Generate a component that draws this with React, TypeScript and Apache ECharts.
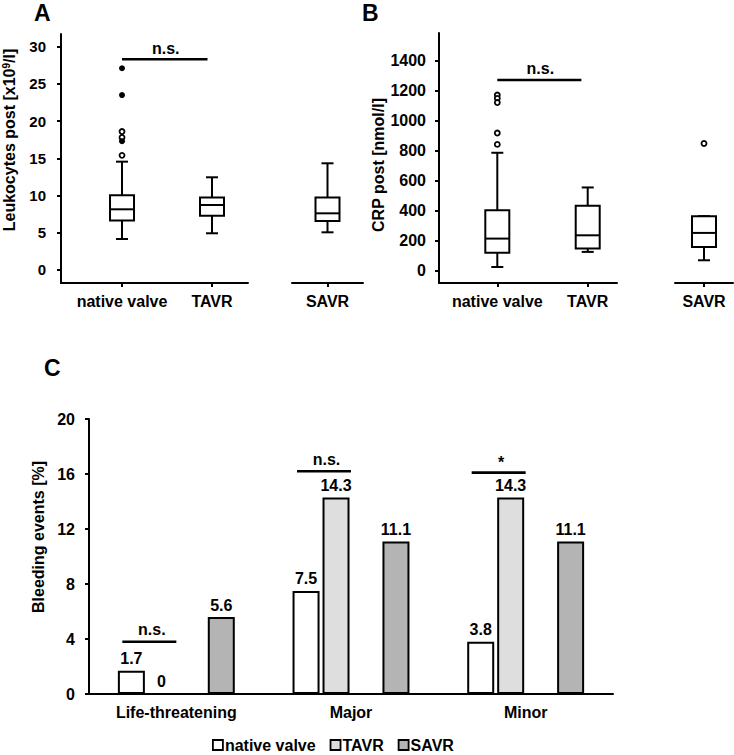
import React, { useEffect, useRef } from 'react';
import * as echarts from 'echarts';

const FONT = "'Liberation Sans', Arial, Helvetica, sans-serif";

// Panel A – Leukocytes post
const groupsA = ['native valve', 'TAVR'];
const groupsA2 = ['SAVR'];
const leukoTicks = [0, 5, 10, 15, 20, 25, 30];
// [group index, low whisker, Q1, median, Q3, high whisker]
const leukoBoxes = [
  [0, 4.16, 6.63, 8.15, 10.03, 14.55],
  [1, 4.93, 7.3, 8.73, 9.72, 12.45],
];
const leukoBoxesSavr = [[0, 5.06, 6.58, 7.61, 9.72, 14.33]];
const leukoOutliersOpen = [[0, 18.6], [0, 17.8], [0, 15.4]];
const leukoOutliersFilled = [[0, 27.1], [0, 23.5], [0, 17.3]];
const leukoSig = [[0, 0.95, 28.3]];

// Panel B – CRP post
const groupsB = ['native valve', 'TAVR'];
const groupsB2 = ['SAVR'];
const crpTicks = [0, 200, 400, 600, 800, 1000, 1200, 1400];
const crpBoxes = [
  [0, 22, 118, 212, 402, 786],
  [1, 123, 145, 234, 431, 554],
];
const crpBoxesSavr = [[0, 67, 156, 250, 362, 362]];
const crpOutliers = [[0, 1172], [0, 1150], [0, 1122], [0, 918], [0, 842]];
const crpOutliersSavr = [[0, 848]];
const crpSig = [[0, 0.93, 1273]];

// Panel C – Bleeding events
const bleedCategories = ['Life-threatening', 'Major', 'Minor'];
const nativeValve = [1.7, 7.5, 3.8];
const tavr = [0, 14.3, 14.3];
const savr = [5.6, 11.1, 11.1];
const bleedTicks = [0, 4, 8, 12, 16, 20];
const sigC = [[0, 3.8], [1, 16.2], [2, 16.1]];
const sigCLabels = ['n.s.', 'n.s.', '*'];

const txt = { fontFamily: FONT, fontWeight: 'bold' as const, fontSize: 16, color: '#000' };

function boxRender(params: any, api: any) {
  const x = api.value(0);
  const lo = api.coord([x, api.value(1)]);
  const q1 = api.coord([x, api.value(2)]);
  const med = api.coord([x, api.value(3)]);
  const q3 = api.coord([x, api.value(4)]);
  const hi = api.coord([x, api.value(5)]);
  const cx = lo[0];
  const bw = 24;
  const cw = 12;
  const st = { stroke: '#000', lineWidth: 2, fill: 'none' };
  return {
    type: 'group',
    children: [
      { type: 'line', shape: { x1: cx, y1: hi[1], x2: cx, y2: q3[1] }, style: st },
      { type: 'line', shape: { x1: cx, y1: q1[1], x2: cx, y2: lo[1] }, style: st },
      { type: 'line', shape: { x1: cx - cw / 2, y1: hi[1], x2: cx + cw / 2, y2: hi[1] }, style: st },
      { type: 'line', shape: { x1: cx - cw / 2, y1: lo[1], x2: cx + cw / 2, y2: lo[1] }, style: st },
      {
        type: 'rect',
        shape: { x: cx - bw / 2, y: q3[1], width: bw, height: q1[1] - q3[1] },
        style: { stroke: '#000', lineWidth: 2, fill: '#fff' },
      },
      { type: 'line', shape: { x1: cx - bw / 2, y1: med[1], x2: cx + bw / 2, y2: med[1] }, style: st },
    ],
  };
}

function sigRender(params: any, api: any) {
  const p0 = api.coord([api.value(0), api.value(2)]);
  const p1 = api.coord([api.value(1), api.value(2)]);
  return {
    type: 'group',
    children: [
      { type: 'line', shape: { x1: p0[0], y1: p0[1], x2: p1[0], y2: p1[1] }, style: { stroke: '#000', lineWidth: 2.6 } },
      {
        type: 'text',
        x: (p0[0] + p1[0]) / 2 + 1,
        y: p0[1] - 11,
        style: { text: 'n.s.', fill: '#000', fontSize: 16, fontWeight: 'bold', fontFamily: FONT, align: 'center', verticalAlign: 'middle' },
      },
    ],
  };
}

function sigCRender(params: any, api: any) {
  const c = api.coord([api.value(0), api.value(1)]);
  const label = sigCLabels[params.dataIndex];
  return {
    type: 'group',
    children: [
      { type: 'line', shape: { x1: c[0] - 54, y1: c[1], x2: c[0], y2: c[1] }, style: { stroke: '#000', lineWidth: 2.6 } },
      {
        type: 'text',
        x: c[0] - 24.5,
        y: c[1] - (label === '*' ? 10 : 12),
        style: { text: label, fill: '#000', fontSize: 16, fontWeight: 'bold', fontFamily: FONT, align: 'center', verticalAlign: 'middle' },
      },
    ],
  };
}

function valueXAxis(gridIndex: number, min: number, max: number, names: string[]) {
  const vals = names.map((_, i) => i);
  return {
    type: 'value',
    gridIndex,
    min,
    max,
    axisLine: { show: true, onZero: false, lineStyle: { color: '#000', width: 2 } },
    axisTick: { show: true, length: 4, lineStyle: { color: '#000', width: 2 }, customValues: vals },
    axisLabel: { ...txt, margin: 10, customValues: vals, formatter: (v: number) => names[Math.round(v)] ?? '' },
    splitLine: { show: false },
  };
}

function valueYAxis(gridIndex: number, min: number, max: number, ticks: number[], show: boolean, margin: number, fontSize: number) {
  return {
    type: 'value',
    gridIndex,
    min,
    max,
    show,
    axisLine: { show: true, onZero: false, lineStyle: { color: '#000', width: 2 } },
    axisTick: { show: true, length: 4, lineStyle: { color: '#000', width: 2 }, customValues: ticks },
    axisLabel: { ...txt, fontSize, margin, customValues: ticks, formatter: (v: number) => String(v) },
    splitLine: { show: false },
  };
}

export default function App() {
  const ref = useRef<HTMLDivElement>(null);
  useEffect(() => {
    if (!ref.current) return;
    const chart = echarts.init(ref.current, undefined, { renderer: 'svg' });
    const yA: any = valueYAxis(0, -1.75, 31.7, leukoTicks, true, 15, 15);
    yA.name = 'Leukocytes post [x10{sup|9}/l]';
    yA.nameLocation = 'middle';
    yA.nameGap = 44;
    yA.nameTextStyle = { ...txt, padding: [0, 0, 0, 37], rich: { sup: { fontFamily: FONT, fontWeight: 'bold', fontSize: 10, color: '#000', verticalAlign: 'top' } } };
    const yB: any = valueYAxis(2, -85, 1587, crpTicks, true, 13, 16);
    yB.name = 'CRP post [nmol/l]';
    yB.nameLocation = 'middle';
    yB.nameGap = 46;
    yB.nameTextStyle = { ...txt, padding: [0, 14, 0, 0] };

    const titleStyle = { fontFamily: FONT, fontWeight: 'bold', fontSize: 23, lineHeight: 26, color: '#000' };
    const option: any = {
      animation: false,
      textStyle: { fontFamily: FONT },
      title: [
        { text: 'A', left: 34, top: 0, padding: 0, textStyle: titleStyle },
        { text: 'B', left: 362, top: 0, padding: 0, textStyle: titleStyle },
        { text: 'C', left: 44, top: 355, padding: 0, textStyle: titleStyle },
      ],
      grid: [
        { left: 61, top: 34, width: 187, height: 249 },
        { left: 292, top: 34, width: 71, height: 249 },
        { left: 439, top: 33, width: 178, height: 250 },
        { left: 675, top: 33, width: 58, height: 250 },
        { left: 89, top: 419, width: 524, height: 275 },
      ],
      xAxis: [
        valueXAxis(0, -0.678, 1.4, groupsA),
        valueXAxis(1, -0.5, 0.5, groupsA2),
        valueXAxis(2, -0.645, 1.324, groupsB),
        valueXAxis(3, -0.5, 0.5, groupsB2),
        {
          type: 'category',
          gridIndex: 4,
          data: bleedCategories,
          axisLine: { lineStyle: { color: '#000', width: 2 } },
          axisTick: { show: false },
          axisLabel: { ...txt, margin: 10 },
        },
      ],
      yAxis: [
        yA,
        valueYAxis(1, -1.75, 31.7, leukoTicks, false, 15, 15),
        yB,
        valueYAxis(3, -85, 1587, crpTicks, false, 13, 16),
        {
          type: 'value',
          gridIndex: 4,
          min: 0,
          max: 20,
          interval: 4,
          name: 'Bleeding events [%]',
          nameLocation: 'middle',
          nameGap: 37,
          nameTextStyle: { ...txt, padding: [0, 0, 0, 39] },
          axisLine: { show: true, lineStyle: { color: '#000', width: 2 } },
          axisTick: { show: true, length: 4, lineStyle: { color: '#000', width: 2 } },
          axisLabel: { ...txt, margin: 14, customValues: bleedTicks },
          splitLine: { show: false },
        },
      ],
      legend: {
        data: ['native valve', 'TAVR', 'SAVR'],
        left: 207,
        top: 732,
        icon: 'rect',
        itemWidth: 10,
        itemHeight: 10,
        itemGap: 14,
        itemStyle: { borderColor: '#000', borderWidth: 1.8 },
        textStyle: { ...txt, padding: [0, 0, 0, -3] },
      },
      series: [
        { type: 'custom', name: 'leukoBox', xAxisIndex: 0, yAxisIndex: 0, data: leukoBoxes, renderItem: boxRender, encode: { x: 0, y: [1, 2, 3, 4, 5] }, z: 3 },
        { type: 'custom', name: 'leukoBoxSavr', xAxisIndex: 1, yAxisIndex: 1, data: leukoBoxesSavr, renderItem: boxRender, encode: { x: 0, y: [1, 2, 3, 4, 5] }, z: 3 },
        { type: 'scatter', name: 'leukoOutOpen', xAxisIndex: 0, yAxisIndex: 0, data: leukoOutliersOpen, symbolSize: 5, itemStyle: { color: '#fff', borderColor: '#000', borderWidth: 1.8, opacity: 1 }, z: 4 },
        { type: 'scatter', name: 'leukoOutFilled', xAxisIndex: 0, yAxisIndex: 0, data: leukoOutliersFilled, symbolSize: 6, itemStyle: { color: '#000', borderColor: '#000', borderWidth: 0, opacity: 1 }, z: 4 },
        { type: 'custom', name: 'leukoSig', xAxisIndex: 0, yAxisIndex: 0, data: leukoSig, renderItem: sigRender, encode: { x: [0, 1], y: 2 } },

        { type: 'custom', name: 'crpBox', xAxisIndex: 2, yAxisIndex: 2, data: crpBoxes, renderItem: boxRender, encode: { x: 0, y: [1, 2, 3, 4, 5] }, z: 3 },
        { type: 'custom', name: 'crpBoxSavr', xAxisIndex: 3, yAxisIndex: 3, data: crpBoxesSavr, renderItem: boxRender, encode: { x: 0, y: [1, 2, 3, 4, 5] }, z: 3 },
        { type: 'scatter', name: 'crpOut', xAxisIndex: 2, yAxisIndex: 2, data: crpOutliers, symbolSize: 5, itemStyle: { color: '#fff', borderColor: '#000', borderWidth: 1.8, opacity: 1 }, z: 4 },
        { type: 'scatter', name: 'crpOutSavr', xAxisIndex: 3, yAxisIndex: 3, data: crpOutliersSavr, symbolSize: 5, itemStyle: { color: '#fff', borderColor: '#000', borderWidth: 1.8, opacity: 1 }, z: 4 },
        { type: 'custom', name: 'crpSig', xAxisIndex: 2, yAxisIndex: 2, data: crpSig, renderItem: sigRender, encode: { x: [0, 1], y: 2 } },

        {
          type: 'bar', name: 'native valve', xAxisIndex: 4, yAxisIndex: 4, data: nativeValve,
          barWidth: 27, barGap: '11%',
          itemStyle: { color: '#ffffff', borderColor: '#000', borderWidth: 2 },
          label: { show: true, position: 'top', distance: 4, ...txt },
        },
        {
          type: 'bar', name: 'TAVR', xAxisIndex: 4, yAxisIndex: 4, data: tavr,
          barWidth: 27, barGap: '11%',
          itemStyle: { color: '#dedede', borderColor: '#000', borderWidth: 2 },
          label: { show: true, position: 'top', distance: 4, ...txt },
        },
        {
          type: 'bar', name: 'spacer', xAxisIndex: 4, yAxisIndex: 4, data: bleedCategories.map(() => null),
          barWidth: 27, barGap: '11%',
          itemStyle: { color: 'transparent' },
        },
        {
          type: 'bar', name: 'SAVR', xAxisIndex: 4, yAxisIndex: 4, data: savr,
          barWidth: 27, barGap: '11%',
          itemStyle: { color: '#b4b4b4', borderColor: '#000', borderWidth: 2 },
          label: { show: true, position: 'top', distance: 4, ...txt },
        },
        { type: 'custom', name: 'bleedSig', xAxisIndex: 4, yAxisIndex: 4, data: sigC, renderItem: sigCRender, encode: { x: 0, y: 1 } },
      ],
    };
    chart.setOption(option);
    return () => chart.dispose();
  }, []);
  return <div ref={ref} style={{ position: 'absolute', left: 0, top: 0, width: 734, height: 755, background: '#fff' }} />;
}
